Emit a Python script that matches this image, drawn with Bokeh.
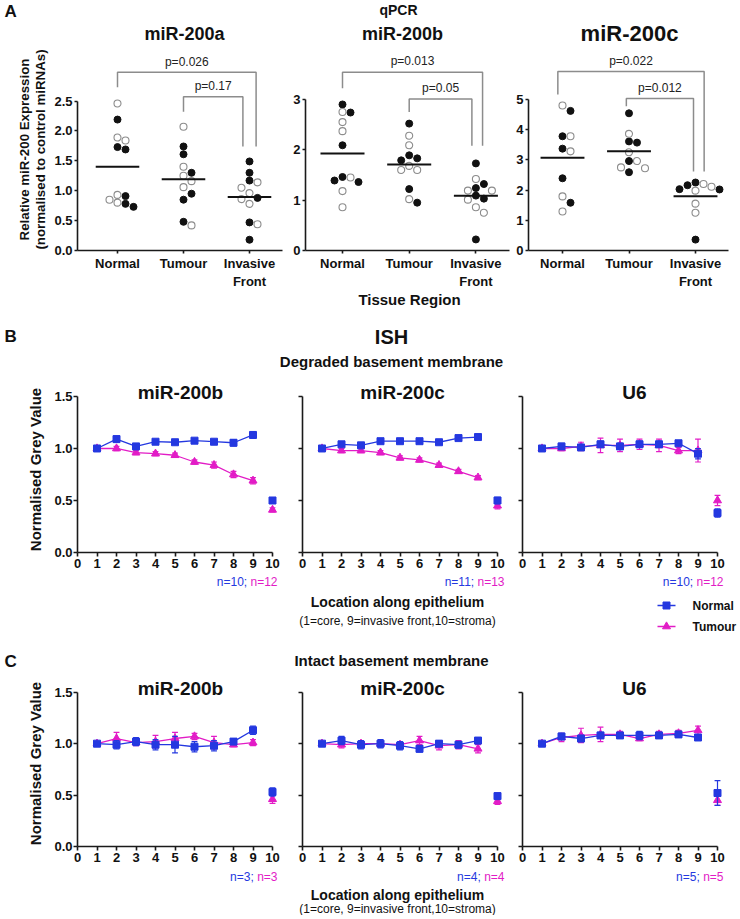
import numpy as np
from bokeh.plotting import figure
from bokeh.models import Range1d, FixedTicker, PrintfTickFormatter, CustomJSTickFormatter, Label
from bokeh.layouts import column, row
from bokeh.embed import file_html
from bokeh.resources import INLINE
from bokeh.core.properties import value

FONT = "Liberation Sans"
INK = "#111111"
GREY = "#8c8c8c"
BLUE = "#2438e0"
MAGENTA = "#e21cc6"

# ---------------- Panel A : qPCR ----------------
qpcr_groups = ["Normal", "Tumour", "Invasive\nFront"]

mir200a_filled = [[2.19, 1.73, 1.69, 0.91, 0.78, 0.73],
                  [1.74, 1.61, 1.30, 0.95, 0.85, 0.48],
                  [1.49, 1.30, 1.17, 0.88, 0.47, 0.18]]
mir200a_open = [[2.46, 1.89, 1.84, 0.93, 0.85, 0.80],
                [2.07, 1.40, 1.25, 1.16, 1.06, 0.42],
                [1.14, 1.05, 0.96, 0.86, 0.78, 0.44]]

mir200b_filled = [[2.90, 2.74, 2.09, 1.46, 1.39, 1.36],
                  [2.52, 1.89, 1.83, 1.79, 1.22, 0.95],
                  [1.73, 1.32, 1.24, 1.09, 1.03, 0.22]]
mir200b_open = [[2.75, 2.55, 2.37, 1.45, 1.18, 0.86],
                [2.28, 2.09, 1.68, 1.60, 1.60, 1.02],
                [1.42, 1.19, 1.19, 1.01, 0.86, 0.75]]

mir200c_filled = [[4.62, 3.78, 3.37, 2.39, 1.58],
                  [4.54, 3.61, 3.57, 2.96, 2.59],
                  [2.25, 2.16, 2.03, 2.02, 0.36]]
mir200c_open = [[4.80, 3.78, 3.28, 1.79, 1.29],
                [3.86, 3.25, 2.96, 2.75, 2.72],
                [2.20, 2.11, 1.98, 1.55, 1.25]]

# brackets: (from group, to group, top, left leg end, right leg end, label)
brackets_200a = [(1.0, 3.1, 2.98, 2.73, 1.74, "p=0.026"), (2.0, 2.9, 2.57, 2.32, 1.74, "p=0.17")]
brackets_200b = [(1.0, 3.1, 3.54, 3.22, 2.08, "p=0.013"), (2.0, 2.94, 3.01, 2.75, 2.08, "p=0.05")]
brackets_200c = [(0.93, 3.13, 5.92, 5.16, 2.61, "p=0.022"), (1.96, 2.97, 5.03, 4.77, 2.61, "p=0.012")]

# ---------------- Panels B / C : ISH ----------------
locations = [1, 2, 3, 4, 5, 6, 7, 8, 9, 10]   # 10 = stroma (not joined)
x_ticks_ish = [0, 1, 2, 3, 4, 5, 6, 7, 8, 9, 10]
y_ticks_ish = [0.0, 0.5, 1.0, 1.5]

deg_200b_normal = [1.00, 1.09, 1.02, 1.065, 1.06, 1.075, 1.065, 1.055, 1.13, 0.50]
deg_200b_normal_err = [0.01, 0.03, 0.02, 0.02, 0.02, 0.02, 0.02, 0.03, 0.03, 0.02]
deg_200b_tumour = [1.00, 1.00, 0.96, 0.95, 0.935, 0.87, 0.84, 0.75, 0.69, 0.41]
deg_200b_tumour_err = [0.01, 0.02, 0.02, 0.02, 0.02, 0.02, 0.03, 0.03, 0.03, 0.02]

deg_200c_normal = [1.00, 1.04, 1.03, 1.07, 1.07, 1.07, 1.06, 1.10, 1.11, 0.50]
deg_200c_normal_err = [0.01, 0.02, 0.02, 0.02, 0.02, 0.02, 0.02, 0.02, 0.02, 0.03]
deg_200c_tumour = [1.00, 0.98, 0.98, 0.96, 0.91, 0.89, 0.84, 0.78, 0.72, 0.45]
deg_200c_tumour_err = [0.01, 0.02, 0.02, 0.02, 0.02, 0.02, 0.02, 0.02, 0.02, 0.03]

deg_u6_normal = [1.00, 1.02, 1.01, 1.04, 1.02, 1.04, 1.04, 1.05, 0.95, 0.38]
deg_u6_normal_err = [0.01, 0.03, 0.02, 0.03, 0.03, 0.03, 0.03, 0.02, 0.05, 0.04]
deg_u6_tumour = [1.00, 1.00, 1.02, 1.03, 1.03, 1.04, 1.03, 0.98, 0.98, 0.50]
deg_u6_tumour_err = [0.01, 0.02, 0.04, 0.07, 0.06, 0.05, 0.06, 0.03, 0.11, 0.05]

int_200b_normal = [1.00, 0.99, 1.02, 0.99, 0.99, 0.97, 0.98, 1.02, 1.13, 0.53]
int_200b_normal_err = [0.02, 0.04, 0.04, 0.05, 0.08, 0.05, 0.05, 0.02, 0.04, 0.04]
int_200b_tumour = [1.00, 1.05, 1.01, 1.02, 1.05, 1.07, 1.01, 0.99, 1.01, 0.46]
int_200b_tumour_err = [0.01, 0.06, 0.03, 0.06, 0.06, 0.03, 0.06, 0.02, 0.03, 0.04]

int_200c_normal = [1.00, 1.03, 0.99, 1.00, 0.98, 0.95, 1.00, 0.99, 1.03, 0.49]
int_200c_normal_err = [0.01, 0.04, 0.04, 0.04, 0.04, 0.03, 0.03, 0.03, 0.03, 0.03]
int_200c_tumour = [1.00, 0.99, 1.00, 1.00, 0.99, 1.03, 0.98, 0.99, 0.95, 0.44]
int_200c_tumour_err = [0.01, 0.03, 0.02, 0.03, 0.02, 0.04, 0.04, 0.04, 0.04, 0.03]

int_u6_normal = [1.00, 1.07, 1.05, 1.08, 1.08, 1.08, 1.08, 1.09, 1.06, 0.52]
int_u6_normal_err = [0.01, 0.03, 0.03, 0.03, 0.02, 0.04, 0.03, 0.02, 0.02, 0.12]
int_u6_tumour = [1.00, 1.06, 1.08, 1.09, 1.09, 1.05, 1.09, 1.10, 1.13, 0.45]
int_u6_tumour_err = [0.01, 0.04, 0.07, 0.07, 0.03, 0.02, 0.03, 0.03, 0.04, 0.05]

deg_n_normal = [10, 11, 10]
deg_n_tumour = [12, 13, 12]
int_n_normal = [3, 4, 5]
int_n_tumour = [3, 4, 5]

# ---------------- helpers ----------------
def base_fig(width, height, xr, yr, left=0, bottom=0):
    f = figure(width=width, height=height, x_range=xr, y_range=yr,
               min_border_left=left, min_border_right=0, min_border_top=0,
               min_border_bottom=bottom, output_backend="svg",
               toolbar_location=None, title=None)
    f.outline_line_color = None
    f.grid.visible = False
    return f


def make_strip(w, h):
    f = figure(width=w, height=h, x_range=Range1d(0, w), y_range=Range1d(h, 0),
               x_axis_type=None, y_axis_type=None, min_border=0,
               output_backend="svg", toolbar_location=None, title=None)
    f.outline_line_color = None
    return f


def put(f, x, y, s, size, bold=True, color=INK, align="center"):
    f.text(x=[x], y=[y], text=[s], text_font=value(FONT),
           text_font_size=f"{size}px", text_font_style="bold" if bold else "normal",
           text_color=color, text_align=align, text_baseline="middle")


def style_axes(f, tick_out=4, standoff=2):
    for ax in (f.xaxis[0], f.yaxis[0]):
        ax.axis_line_color = "#1a1a1a"
        ax.axis_line_width = 1.6
        ax.major_tick_line_color = "#1a1a1a"
        ax.major_tick_line_width = 1.6
        ax.major_tick_out = tick_out
        ax.major_tick_in = 0
        ax.minor_tick_line_color = None
        ax.major_label_text_font = FONT
        ax.major_label_text_font_style = "bold"
        ax.major_label_text_font_size = "13px"
        ax.major_label_text_color = INK
        ax.major_label_standoff = standoff


def swarm(vals, ppu, ppx, d=8.0):
    order = np.argsort(-np.asarray(vals), kind="stable")
    placed = []
    offs = [0.0] * len(vals)
    for i in order:
        y = vals[i] * ppu
        for k in [0, 1, -1, 2, -2, 3, -3]:
            x = k * d
            if all((x - px) ** 2 + (y - py) ** 2 >= (0.95 * d) ** 2 for px, py in placed):
                break
        placed.append((x, y))
        offs[i] = x / ppx
    return offs


QP_FRAME_H = 205
QP_BOTTOM = 38


def qpcr_fig(width, left, x_start, ppx, ppu, tick_step, tick_max, fmt, filled, opened, brackets):
    x_end = x_start + (width - left) / ppx
    y_end = QP_FRAME_H / ppu
    f = base_fig(width, QP_FRAME_H + QP_BOTTOM, Range1d(x_start, x_end), Range1d(0, y_end),
                 left=left, bottom=QP_BOTTOM)
    style_axes(f, tick_out=3, standoff=2)
    f.xaxis.ticker = FixedTicker(ticks=[1, 2, 3])
    f.xaxis.major_label_overrides = {1: qpcr_groups[0], 2: qpcr_groups[1], 3: qpcr_groups[2]}
    f.xaxis.bounds = (x_start, 3.5)
    f.yaxis.ticker = FixedTicker(ticks=list(np.arange(0, tick_max + 1e-9, tick_step)))
    f.yaxis.formatter = PrintfTickFormatter(format=fmt)
    f.yaxis.bounds = (0, tick_max)
    for gi in range(3):
        vals = list(filled[gi]) + list(opened[gi])
        offs = swarm(vals, ppu, ppx)
        nf = len(filled[gi])
        xs = [gi + 1 + o for o in offs]
        f.scatter(xs[:nf], vals[:nf], marker="circle", size=7, fill_color=INK, line_color=INK)
        f.scatter(xs[nf:], vals[nf:], marker="circle", size=7, fill_color="white",
                  line_color=GREY, line_width=1.1)
        m = float(np.mean(vals))
        f.segment(x0=[gi + 1 - 0.33], y0=[m], x1=[gi + 1 + 0.33], y1=[m], line_color=INK, line_width=2)
    for (x0, x1, top, lb, rb, lab) in brackets:
        f.line([x0, x0, x1, x1], [lb, top, top, rb], line_color=GREY, line_width=1.5)
        f.text(x=[(x0 + x1) / 2], y=[top + 11 / ppu], text=[lab], text_font=value(FONT),
               text_font_size="12px", text_color="#222222", text_align="center",
               text_baseline="middle")
    return f


ISH_PPX = 19.5
ISH_YTOP = 1.692
ISH_BOTTOM = 22


def ish_fig(width, left, frame_h, title, title_x, normal, nerr, tumour, terr, labels):
    x_end = (width - left) / ISH_PPX
    f = base_fig(width, frame_h + ISH_BOTTOM, Range1d(0, x_end), Range1d(0, ISH_YTOP),
                 left=left, bottom=ISH_BOTTOM)
    style_axes(f, tick_out=4, standoff=2)
    f.yaxis.major_label_standoff = 1
    f.xaxis.ticker = FixedTicker(ticks=x_ticks_ish)
    f.xaxis.bounds = (0, 10)
    f.yaxis.ticker = FixedTicker(ticks=y_ticks_ish)
    f.yaxis.bounds = (0, 1.5)
    if labels:
        f.yaxis.formatter = PrintfTickFormatter(format="%.1f")
    else:
        f.yaxis.formatter = CustomJSTickFormatter(code="return ''")
    cap = 0.15
    for vals, errs, col, mk, sz in ((tumour, terr, MAGENTA, "triangle", 8),
                                    (normal, nerr, BLUE, "square", 7)):
        lo = [v - e for v, e in zip(vals, errs)]
        hi = [v + e for v, e in zip(vals, errs)]
        f.segment(x0=locations, y0=lo, x1=locations, y1=hi, line_color=col, line_width=1.2)
        f.segment(x0=[x - cap for x in locations], y0=lo, x1=[x + cap for x in locations], y1=lo,
                  line_color=col, line_width=1.2)
        f.segment(x0=[x - cap for x in locations], y0=hi, x1=[x + cap for x in locations], y1=hi,
                  line_color=col, line_width=1.2)
        f.line(locations[:9], vals[:9], line_color=col, line_width=1.3)
        f.scatter(locations, vals, marker=mk, size=sz, fill_color=col, line_color=col)
    f.text(x=[title_x], y=[1.54], text=[title], text_font=value(FONT), text_font_size="19px",
           text_font_style="bold", text_color=INK, text_align="center", text_baseline="middle")
    return f


def ylab_strip(h, bottom, lines, cy):
    # same top/bottom borders as the plots of its row (rows align frames);
    # labels must stay inside the frame (0..h-bottom px from the top)
    fh = h - bottom
    s = figure(width=49, height=h, x_range=Range1d(0, 49), y_range=Range1d(fh, 0),
               x_axis_type=None, y_axis_type=None, min_border_left=0, min_border_right=0,
               min_border_top=0, min_border_bottom=bottom, output_backend="svg",
               toolbar_location=None, title=None)
    s.outline_line_color = None
    for (x, txt, size) in lines:
        s.add_layout(Label(x=x, y=cy, text=txt, angle=np.pi / 2, text_align="center",
                           text_baseline="middle", text_font=FONT, text_font_style="bold",
                           text_font_size=f"{size}px", text_color=INK))
    return s


CW = {"n": 556, "=": 584, ";": 278, " ": 278}


def tw(s, size):
    return sum(CW.get(c, 556) for c in s) * size / 1000.0


def n_labels(s, y, rights, nn, nt):
    for r, a, b in zip(rights, nn, nt):
        tb = f"n={b}"
        put(s, r, y, tb, 12, bold=False, color=MAGENTA, align="right")
        put(s, r - tw(tb, 12) - tw(" ", 12), y, f"n={a};", 12, bold=False, color=BLUE, align="right")


W = 740

# ---------------- header A ----------------
headA = make_strip(W, 48)
put(headA, 4, 11, "A", 17, align="left")
put(headA, 398, 9, "qPCR", 14)
put(headA, 184, 33, "miR-200a", 18)
put(headA, 402, 33, "miR-200b", 18)
put(headA, 629, 33, "miR-200c", 22)

a1 = qpcr_fig(241, 28, 1 - 40 / 66.0, 66.0, 60.67, 0.5, 2.5, "%.1f", mir200a_filled, mir200a_open, brackets_200a)
a2 = qpcr_fig(223, 15, 1 - 37 / 66.7, 66.7, 51.1, 1, 3, "%d", mir200b_filled, mir200b_open, brackets_200b)
a3 = qpcr_fig(227, 15, 1 - 34 / 66.5, 66.5, 30.67, 1, 5, "%d", mir200c_filled, mir200c_open, brackets_200c)
ylA = ylab_strip(QP_FRAME_H + QP_BOTTOM, QP_BOTTOM,
                 [(24, "Relative miR-200 Expression", 13.3),
                  (40, "(normalised to control miRNAs)", 13.3)], 102.5)
rowA = row(ylA, a1, a2, a3)

# ---------------- mid strip 1 ----------------
mid1 = make_strip(W, 85)
put(mid1, 409, 8, "Tissue Region", 15)
put(mid1, 4, 45, "B", 17, align="left")
put(mid1, 391, 45, "ISH", 20)
put(mid1, 391, 70, "Degraded basement membrane", 15)

# ---------------- row B ----------------
b1 = ish_fig(243, 28, 176, "miR-200b", 5.28, deg_200b_normal, deg_200b_normal_err, deg_200b_tumour, deg_200b_tumour_err, True)
b2 = ish_fig(220, 10, 176, "miR-200c", 5.13, deg_200c_normal, deg_200c_normal_err, deg_200c_tumour, deg_200c_tumour_err, False)
b3 = ish_fig(228, 10, 176, "U6", 5.74, deg_u6_normal, deg_u6_normal_err, deg_u6_tumour, deg_u6_tumour_err, False)
ylB = ylab_strip(176 + ISH_BOTTOM, ISH_BOTTOM, [(35, "Normalised Grey Value", 15)], 93)
rowB = row(ylB, b1, b2, b3)

# ---------------- mid strip 2 ----------------
mid2 = make_strip(W, 98)
n_labels(mid2, 7, [277, 504, 723], deg_n_normal, deg_n_tumour)
put(mid2, 397, 27, "Location along epithelium", 14)
put(mid2, 397, 46, "(1=core, 9=invasive front,10=stroma)", 12, bold=False)
mid2.line([657, 675], [31, 31], line_color=BLUE, line_width=1.3)
mid2.scatter([666], [31], marker="square", size=7, fill_color=BLUE, line_color=BLUE)
put(mid2, 692, 31, "Normal", 12, align="left")
mid2.line([657, 675], [52, 52], line_color=MAGENTA, line_width=1.3)
mid2.scatter([666], [52], marker="triangle", size=8, fill_color=MAGENTA, line_color=MAGENTA)
put(mid2, 692, 52, "Tumour", 12, align="left")
put(mid2, 4, 87, "C", 17, align="left")
put(mid2, 391, 86, "Intact basement membrane", 15)

# ---------------- row C ----------------
c1 = ish_fig(243, 28, 174, "miR-200b", 5.28, int_200b_normal, int_200b_normal_err, int_200b_tumour, int_200b_tumour_err, True)
c2 = ish_fig(220, 10, 174, "miR-200c", 5.13, int_200c_normal, int_200c_normal_err, int_200c_tumour, int_200c_tumour_err, False)
c3 = ish_fig(228, 10, 174, "U6", 5.74, int_u6_normal, int_u6_normal_err, int_u6_tumour, int_u6_tumour_err, False)
ylC = ylab_strip(174 + ISH_BOTTOM, ISH_BOTTOM, [(35, "Normalised Grey Value", 15)], 91)
rowC = row(ylC, c1, c2, c3)

# ---------------- footer ----------------
foot = make_strip(W, 47)
n_labels(foot, 8, [277, 504, 723], int_n_normal, int_n_tumour)
put(foot, 397, 26, "Location along epithelium", 14)
put(foot, 397, 40, "(1=core, 9=invasive front,10=stroma)", 12, bold=False)

page = column(headA, rowA, mid1, rowB, mid2, rowC, foot)

open("out.html", "w").write(file_html(page, INLINE))
